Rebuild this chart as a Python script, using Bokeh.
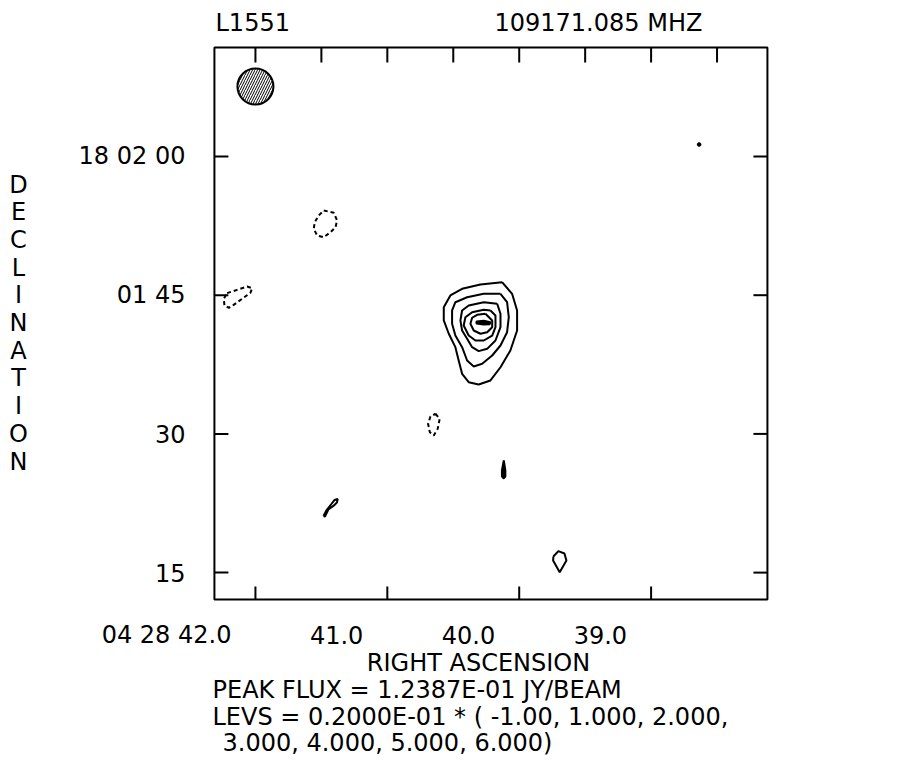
from bokeh.plotting import figure
from bokeh.models import Range1d, Label
from bokeh.embed import file_html
from bokeh.resources import INLINE

# Coordinates: RA in seconds of time after 04h28m, Dec in arcsec after +18d01m00s
MAP_RA = (42.311, 38.118)      # left / right edge of the map box
MAP_DEC = (12.094, 71.787)     # bottom / top edge of the map box
VIEW_RA = (43.933, 37.109)     # whole drawing (text margins included)
VIEW_DEC = (-5.319, 76.870)

RA_BOTTOM_TICKS = [42.0, 41.0, 40.0, 39.0]
RA_BOTTOM_LABELS = ["04 28 42.0", "41.0", "40.0", "39.0"]
RA_TOP_TICKS = [42.0, 41.5, 41.0, 40.5, 40.0, 39.5, 39.0, 38.5]
DEC_TICKS = [60, 45, 30, 15]
DEC_LABELS = ["18 02 00", "01 45", "30", "15"]

TITLE_LEFT = "L1551"
TITLE_RIGHT = "109171.085 MHZ"
X_TITLE = "RIGHT ASCENSION"
Y_TITLE = "DECLINATION"
PEAK_TEXT = "PEAK FLUX =  1.2387E-01 JY/BEAM"
LEVS_TEXT_1 = "LEVS =  0.2000E-01 * (  -1.00, 1.000, 2.000,"
LEVS_TEXT_2 = "3.000, 4.000, 5.000, 6.000)"

# beam
BEAM_RA = 42.0
BEAM_DEC = 67.57
BEAM_W_SEC = 0.273
BEAM_H_ARCSEC = 3.89

# positive contours (main source, levels 1..6)
c1_ra = [40.130, 40.054, 40.016, 40.016, 40.067, 40.142, 40.218, 40.307, 40.383, 40.433,
         40.459, 40.484, 40.534, 40.572, 40.572, 40.522, 40.433, 40.294]
c1_dec = [46.41, 45.15, 43.35, 41.18, 39.02, 37.21, 35.78, 35.34, 35.59, 36.50,
          37.94, 39.38, 40.83, 42.27, 43.70, 44.97, 45.69, 46.16]
c2_ra = [40.142, 40.092, 40.079, 40.092, 40.142, 40.205, 40.281, 40.345, 40.395, 40.433,
         40.484, 40.509, 40.509, 40.484, 40.395, 40.269]
c2_dec = [45.15, 44.24, 42.62, 41.00, 39.56, 38.48, 37.58, 37.29, 37.94, 39.38,
          40.64, 41.91, 43.35, 44.24, 44.78, 45.15]
c3_ra = [40.167, 40.142, 40.142, 40.180, 40.243, 40.307, 40.357, 40.395, 40.433, 40.446,
         40.433, 40.383, 40.269]
c3_dec = [44.07, 42.99, 41.54, 40.10, 39.20, 38.95, 39.38, 40.29, 41.18, 42.27,
          43.35, 43.89, 44.24]
c4_ra = [40.218, 40.180, 40.180, 40.205, 40.269, 40.332, 40.383, 40.421, 40.408, 40.357, 40.269]
c4_dec = [43.35, 42.81, 41.54, 40.64, 40.10, 40.10, 40.64, 41.72, 42.62, 43.16, 43.42]
c5_ra = [40.256, 40.205, 40.205, 40.243, 40.294, 40.345, 40.370, 40.357, 40.319]
c5_dec = [42.99, 42.27, 41.54, 41.00, 40.83, 41.18, 41.91, 42.56, 42.88]
c6_ra = [40.324, 40.269, 40.218, 40.224, 40.269, 40.324]
c6_dec = [42.16, 42.23, 42.08, 41.86, 41.83, 41.94]

# small positive contours
s1_ra = [40.117, 40.105, 40.105, 40.117, 40.131, 40.131]
s1_dec = [27.13, 26.04, 25.40, 25.18, 25.40, 26.04]
s2_ra = [39.741, 39.703, 39.657, 39.642, 39.693, 39.743]
s2_dec = [16.74, 17.32, 17.07, 16.31, 15.05, 16.31]
s3_ra = [41.484, 41.462, 41.424, 41.401, 41.376, 41.382, 41.409, 41.447, 41.473]
s3_dec = [21.12, 21.72, 22.42, 22.85, 22.96, 22.58, 22.21, 21.83, 21.07]
s4_ra = [38.648, 38.636, 38.624, 38.636]
s4_dec = [61.30, 61.46, 61.30, 61.14]

# negative contours (-1 level, dashed)
n1_ra = [41.482, 41.406, 41.381, 41.393, 41.431, 41.482, 41.532, 41.558, 41.550, 41.520]
n1_dec = [54.16, 53.91, 53.08, 52.35, 51.81, 51.27, 51.46, 52.18, 52.90, 53.62]
n2_ra = [42.215, 42.139, 42.063, 42.025, 42.038, 42.101, 42.165, 42.202, 42.235, 42.240]
n2_dec = [45.22, 45.58, 45.94, 45.76, 45.26, 44.61, 43.96, 43.64, 43.89, 44.61]
n3_ra = [40.635, 40.603, 40.618, 40.648, 40.678, 40.691, 40.673]
n3_dec = [32.18, 31.63, 30.55, 29.83, 30.19, 31.09, 31.88]

# tick lengths (in map units: ~14 px)
TICK_RA = 0.106
TICK_DEC = 1.51


def closed(a):
    return list(a) + [a[0]]


FONT = "DejaVu Sans"
FS = "24px"

p = figure(width=900, height=760,
           x_range=Range1d(*VIEW_RA), y_range=Range1d(*VIEW_DEC),
           x_axis_type=None, y_axis_type=None,
           output_backend="svg", toolbar_location=None,
           min_border=0)
p.outline_line_color = None
p.background_fill_color = "white"
p.border_fill_color = "white"
p.grid.visible = False

# map box
p.quad(left=[MAP_RA[0]], right=[MAP_RA[1]], bottom=[MAP_DEC[0]], top=[MAP_DEC[1]],
       fill_color=None, line_color="black", line_width=2)

# ticks (pointing inward)
n = len(DEC_TICKS)
p.segment(x0=[MAP_RA[0]] * n, x1=[MAP_RA[0] - TICK_RA] * n, y0=DEC_TICKS, y1=DEC_TICKS,
          line_color="black", line_width=2)
p.segment(x0=[MAP_RA[1]] * n, x1=[MAP_RA[1] + TICK_RA] * n, y0=DEC_TICKS, y1=DEC_TICKS,
          line_color="black", line_width=2)
m = len(RA_BOTTOM_TICKS)
p.segment(x0=RA_BOTTOM_TICKS, x1=RA_BOTTOM_TICKS, y0=[MAP_DEC[0]] * m,
          y1=[MAP_DEC[0] + TICK_DEC * 0.93] * m, line_color="black", line_width=2)
k = len(RA_TOP_TICKS)
p.segment(x0=RA_TOP_TICKS, x1=RA_TOP_TICKS, y0=[MAP_DEC[1]] * k,
          y1=[MAP_DEC[1] - TICK_DEC * 1.07] * k, line_color="black", line_width=2)

# positive contours
pos_xs = [closed(a) for a in (c1_ra, c2_ra, c3_ra, c4_ra, c5_ra, s2_ra, s3_ra)]
pos_ys = [closed(a) for a in (c1_dec, c2_dec, c3_dec, c4_dec, c5_dec, s2_dec, s3_dec)]
p.multi_line(xs=pos_xs, ys=pos_ys, line_color="black", line_width=2)

# tiny positive contours drawn solid
p.patches(xs=[closed(c6_ra), closed(s1_ra), closed(s4_ra)],
          ys=[closed(c6_dec), closed(s1_dec), closed(s4_dec)],
          fill_color="black", line_color="black", line_width=2)

# negative contours
neg_xs = [closed(a) for a in (n1_ra, n2_ra, n3_ra)]
neg_ys = [closed(a) for a in (n1_dec, n2_dec, n3_dec)]
p.multi_line(xs=neg_xs, ys=neg_ys, line_color="black", line_width=2, line_dash="4 3")

# beam
p.ellipse(x=[BEAM_RA], y=[BEAM_DEC], width=[BEAM_W_SEC], height=[BEAM_H_ARCSEC],
          fill_color=None, line_color="black", line_width=2,
          hatch_pattern="/", hatch_color="black", hatch_scale=5, hatch_weight=1)


def lab(text, x, y, align="left", xu="screen", yu="screen", xoff=0):
    p.add_layout(Label(x=x, y=y, x_units=xu, y_units=yu, x_offset=xoff,
                       text=text, text_font=FONT, text_font_size=FS,
                       text_color="black", text_align=align, text_baseline="middle"))


# tick labels
for t, l in zip(DEC_TICKS, DEC_LABELS):
    lab(l, MAP_RA[0], t, align="right", xu="data", yu="data", xoff=-29)
for t, l in zip(RA_BOTTOM_TICKS, RA_BOTTOM_LABELS):
    lab(l, t, 126, align="right", xu="data", xoff=-24)

# titles and captions (screen px from lower-left of the drawing)
lab(TITLE_LEFT, 215, 738)
lab(TITLE_RIGHT, 494, 738)
lab(X_TITLE, 478, 98, align="center")
lab(PEAK_TEXT, 212, 71)
lab(LEVS_TEXT_1, 212, 44)
lab(LEVS_TEXT_2, 222, 18)
for i, ch in enumerate(Y_TITLE):
    lab(ch, 18, 576 - 27.7 * i, align="center")

open("out.html", "w").write(file_html(p, INLINE))
